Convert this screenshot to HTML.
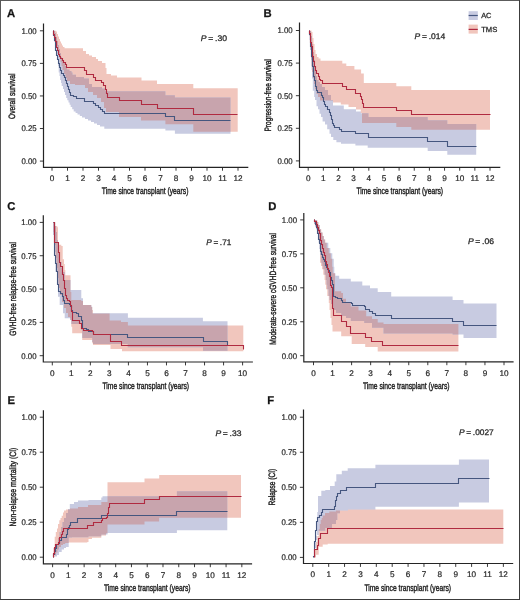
<!DOCTYPE html>
<html><head><meta charset="utf-8"><style>
html,body{margin:0;padding:0;background:#fff;}
svg{display:block;}
text{font-family:"Liberation Sans", sans-serif;stroke:#2a2a2a;stroke-width:0.28px;text-rendering:geometricPrecision;}
svg{will-change:transform;}
</style></head><body>
<svg width="520" height="600" viewBox="0 0 520 600">
<rect x="0" y="0" width="520" height="600" fill="#fff"/>
<rect x="468.6" y="11.2" width="9.2" height="8.8" fill="#c8cbe1"/>
<path d="M468.6 15.5H477.8" stroke="#45567f" stroke-width="1.2"/>
<text x="481.2" y="17.7" font-size="7.4" fill="#2a2a2a">AC</text>
<rect x="468.6" y="24.6" width="9.2" height="9.0" fill="#f1c6bd"/>
<path d="M468.6 29.4H477.8" stroke="#b02a40" stroke-width="1.2"/>
<text x="481.2" y="31.6" font-size="7.4" fill="#2a2a2a" textLength="16.1" lengthAdjust="spacingAndGlyphs">TMS</text>
<text x="200.8" y="40.8" font-size="8.1" fill="#2a2a2a" textLength="26.2" lengthAdjust="spacingAndGlyphs"><tspan font-style="italic">P</tspan> = .30</text>
<clipPath id="rcA"><path d="M53.3 30.8L56 30.8L56 31.5L57 31.5L57 34L58 34L58 36.5L59 36.5L59 39L60 39L60 41.5L61 41.5L61 43.5L62 43.5L62 45.5L63 45.5L63 47L64.5 47L64.5 48.2L83 48.2L83 51L86 51L86 54L89 54L89 55.5L92 55.5L92 57L96 57L96 59L98 59L98 61L102 61L102 63L105.5 63L105.5 68L106.5 68L106.5 74L111 74L111 75.5L117 75.5L117 77.5L141.5 77.5L141.5 80.5L157 80.5L157 84L193.3 84L193.3 88.3L237.7 88.3L237.7 131.7L193.3 131.7L193.3 124.3L165.4 124.3L165.4 120.5L141 120.5L141 117L119 117L119 112L106 112L106 108L104 108L104 102L101 102L101 98L97 98L97 95L93 95L93 92L88 92L88 88L85 88L85 85L75 85L75 84L70 84L70 81L67 81L67 78L65.5 78L65.5 74L64 74L64 70L62.5 70L62.5 66L61.5 66L61.5 62L60.5 62L60.5 58L59.5 58L59.5 54L58.5 54L58.5 50L57.5 50L57.5 46L56.5 46L56.5 42L55.5 42L55.5 38L54.5 38L54.5 34L53.5 34L53.5 30.8L53.3 30.8Z"/></clipPath>
<path d="M53.3 30.8L56 30.8L56 31.5L57 31.5L57 34L58 34L58 36.5L59 36.5L59 39L60 39L60 41.5L61 41.5L61 43.5L62 43.5L62 45.5L63 45.5L63 47L64.5 47L64.5 48.2L83 48.2L83 51L86 51L86 54L89 54L89 55.5L92 55.5L92 57L96 57L96 59L98 59L98 61L102 61L102 63L105.5 63L105.5 68L106.5 68L106.5 74L111 74L111 75.5L117 75.5L117 77.5L141.5 77.5L141.5 80.5L157 80.5L157 84L193.3 84L193.3 88.3L237.7 88.3L237.7 131.7L193.3 131.7L193.3 124.3L165.4 124.3L165.4 120.5L141 120.5L141 117L119 117L119 112L106 112L106 108L104 108L104 102L101 102L101 98L97 98L97 95L93 95L93 92L88 92L88 88L85 88L85 85L75 85L75 84L70 84L70 81L67 81L67 78L65.5 78L65.5 74L64 74L64 70L62.5 70L62.5 66L61.5 66L61.5 62L60.5 62L60.5 58L59.5 58L59.5 54L58.5 54L58.5 50L57.5 50L57.5 46L56.5 46L56.5 42L55.5 42L55.5 38L54.5 38L54.5 34L53.5 34L53.5 30.8L53.3 30.8Z" fill="#f1c6bd"/>
<path d="M53.3 30.8L55 30.8L55 33L56 33L56 37L57 37L57 41L58 41L58 45L59 45L59 49L60 49L60 53L61 53L61 57L62 57L62 60L63.5 60L63.5 63L65 63L65 66L67 66L67 69.5L69.5 69.5L69.5 71L71.5 71L71.5 72.5L72.5 72.5L72.5 74.7L76 74.7L76 77L84 77L84 78.5L89 78.5L89 84L92 84L92 87L102 87L102 88.5L105.5 88.5L105.5 91.3L165.4 91.3L165.4 95.3L174.9 95.3L174.9 97.4L230.5 97.4L230.5 133.8L174.9 133.8L174.9 130.6L165.4 130.6L165.4 128.7L104.3 128.7L104.3 126.5L100 126.5L100 125L97 125L97 123.5L94 123.5L94 122L91 122L91 120.5L88 120.5L88 119L85 119L85 117.5L82 117.5L82 116L79.8 116L79.8 114.5L77.5 114.5L77.5 113L75.6 113L75.6 111.5L73.7 111.5L73.7 109.3L72.2 109.3L72.2 107L70.7 107L70.7 104.8L69.6 104.8L69.6 102.5L68.5 102.5L68.5 100.3L67.3 100.3L67.3 98L66.2 98L66.2 95L65 95L65 92L64 92L64 89L63 89L63 86L61.7 86L61.7 83L61 83L61 80L60.2 80L60.2 76L59.5 76L59.5 72.5L58.7 72.5L58.7 66L58 66L58 59L57.2 59L57.2 54L56.5 54L56.5 48L55.5 48L55.5 42L54.5 42L54.5 36L53.5 36L53.5 30.8L53.3 30.8Z" fill="#c8cbe1"/>
<path d="M53.3 30.8L55 30.8L55 33L56 33L56 37L57 37L57 41L58 41L58 45L59 45L59 49L60 49L60 53L61 53L61 57L62 57L62 60L63.5 60L63.5 63L65 63L65 66L67 66L67 69.5L69.5 69.5L69.5 71L71.5 71L71.5 72.5L72.5 72.5L72.5 74.7L76 74.7L76 77L84 77L84 78.5L89 78.5L89 84L92 84L92 87L102 87L102 88.5L105.5 88.5L105.5 91.3L165.4 91.3L165.4 95.3L174.9 95.3L174.9 97.4L230.5 97.4L230.5 133.8L174.9 133.8L174.9 130.6L165.4 130.6L165.4 128.7L104.3 128.7L104.3 126.5L100 126.5L100 125L97 125L97 123.5L94 123.5L94 122L91 122L91 120.5L88 120.5L88 119L85 119L85 117.5L82 117.5L82 116L79.8 116L79.8 114.5L77.5 114.5L77.5 113L75.6 113L75.6 111.5L73.7 111.5L73.7 109.3L72.2 109.3L72.2 107L70.7 107L70.7 104.8L69.6 104.8L69.6 102.5L68.5 102.5L68.5 100.3L67.3 100.3L67.3 98L66.2 98L66.2 95L65 95L65 92L64 92L64 89L63 89L63 86L61.7 86L61.7 83L61 83L61 80L60.2 80L60.2 76L59.5 76L59.5 72.5L58.7 72.5L58.7 66L58 66L58 59L57.2 59L57.2 54L56.5 54L56.5 48L55.5 48L55.5 42L54.5 42L54.5 36L53.5 36L53.5 30.8L53.3 30.8Z" fill="#c8a4ad" clip-path="url(#rcA)"/>
<path d="M53.5 30.5H53.5V35.5H54.5V40.5H55.5V45.5H55.5V50.5H56.5V55.5H57.5V59.5H58.5V63.5H59.5V67.5H60.5V70.5H61.5V73.5H63.5V75.5H64.5V77.5H65.5V80.5H66.5V83.5H67.5V86.5H68.5V89.5H69.5V92.5H70.5V95.5H73.5V96.5H76.5V98.5H84.5V101.5H93.5V103.5H95.5V105.5H98.5V107.5H100.5V109.5H102.5V111.5H104.5V113.5H165.5V116.5H174.5V120.5H230.5" fill="none" stroke="#45567f" stroke-width="1.1"/>
<path d="M53.5 30.5H53.5V34.5H54.5V37.5H55.5V41.5H56.5V44.5H56.5V47.5H57.5V50.5H58.5V54.5H59.5V56.5H60.5V58.5H62.5V60.5H63.5V62.5H65.5V64.5H66.5V67.5H84.5V70.5H86.5V74.5H93.5V77.5H95.5V80.5H101.5V82.5H103.5V85.5H105.5V89.5H106.5V93.5H107.5V97.5H119.5V100.5H141.5V104.5H157.5V108.5H193.5V114.5H237.5" fill="none" stroke="#b02a40" stroke-width="1.1"/>
<path d="M43.5 24V167.3H247.7" fill="none" stroke="#242424" stroke-width="1.2" stroke-linecap="square"/>
<path d="M39.9 161.1H43.5" stroke="#242424" stroke-width="0.9"/>
<text x="36.7" y="163.9" text-anchor="end" font-size="8.2" fill="#2a2a2a" style="stroke:#2a2a2a;stroke-width:0.22px" textLength="15.2" lengthAdjust="spacingAndGlyphs">0.00</text>
<path d="M39.9 128.53H43.5" stroke="#242424" stroke-width="0.9"/>
<text x="36.7" y="131.33" text-anchor="end" font-size="8.2" fill="#2a2a2a" style="stroke:#2a2a2a;stroke-width:0.22px" textLength="15.2" lengthAdjust="spacingAndGlyphs">0.25</text>
<path d="M39.9 95.95H43.5" stroke="#242424" stroke-width="0.9"/>
<text x="36.7" y="98.75" text-anchor="end" font-size="8.2" fill="#2a2a2a" style="stroke:#2a2a2a;stroke-width:0.22px" textLength="15.2" lengthAdjust="spacingAndGlyphs">0.50</text>
<path d="M39.9 63.38H43.5" stroke="#242424" stroke-width="0.9"/>
<text x="36.7" y="66.17" text-anchor="end" font-size="8.2" fill="#2a2a2a" style="stroke:#2a2a2a;stroke-width:0.22px" textLength="15.2" lengthAdjust="spacingAndGlyphs">0.75</text>
<path d="M39.9 30.8H43.5" stroke="#242424" stroke-width="0.9"/>
<text x="36.7" y="33.6" text-anchor="end" font-size="8.2" fill="#2a2a2a" style="stroke:#2a2a2a;stroke-width:0.22px" textLength="15.2" lengthAdjust="spacingAndGlyphs">1.00</text>
<path d="M52 167.3V170.7" stroke="#242424" stroke-width="0.9"/>
<text x="52" y="181" text-anchor="middle" font-size="8.2" fill="#2a2a2a" style="stroke:#2a2a2a;stroke-width:0.22px">0</text>
<path d="M67.5 167.3V170.7" stroke="#242424" stroke-width="0.9"/>
<text x="67.5" y="181" text-anchor="middle" font-size="8.2" fill="#2a2a2a" style="stroke:#2a2a2a;stroke-width:0.22px">1</text>
<path d="M83 167.3V170.7" stroke="#242424" stroke-width="0.9"/>
<text x="83" y="181" text-anchor="middle" font-size="8.2" fill="#2a2a2a" style="stroke:#2a2a2a;stroke-width:0.22px">2</text>
<path d="M98.5 167.3V170.7" stroke="#242424" stroke-width="0.9"/>
<text x="98.5" y="181" text-anchor="middle" font-size="8.2" fill="#2a2a2a" style="stroke:#2a2a2a;stroke-width:0.22px">3</text>
<path d="M114 167.3V170.7" stroke="#242424" stroke-width="0.9"/>
<text x="114" y="181" text-anchor="middle" font-size="8.2" fill="#2a2a2a" style="stroke:#2a2a2a;stroke-width:0.22px">4</text>
<path d="M129.5 167.3V170.7" stroke="#242424" stroke-width="0.9"/>
<text x="129.5" y="181" text-anchor="middle" font-size="8.2" fill="#2a2a2a" style="stroke:#2a2a2a;stroke-width:0.22px">5</text>
<path d="M145 167.3V170.7" stroke="#242424" stroke-width="0.9"/>
<text x="145" y="181" text-anchor="middle" font-size="8.2" fill="#2a2a2a" style="stroke:#2a2a2a;stroke-width:0.22px">6</text>
<path d="M160.5 167.3V170.7" stroke="#242424" stroke-width="0.9"/>
<text x="160.5" y="181" text-anchor="middle" font-size="8.2" fill="#2a2a2a" style="stroke:#2a2a2a;stroke-width:0.22px">7</text>
<path d="M176 167.3V170.7" stroke="#242424" stroke-width="0.9"/>
<text x="176" y="181" text-anchor="middle" font-size="8.2" fill="#2a2a2a" style="stroke:#2a2a2a;stroke-width:0.22px">8</text>
<path d="M191.5 167.3V170.7" stroke="#242424" stroke-width="0.9"/>
<text x="191.5" y="181" text-anchor="middle" font-size="8.2" fill="#2a2a2a" style="stroke:#2a2a2a;stroke-width:0.22px">9</text>
<path d="M207 167.3V170.7" stroke="#242424" stroke-width="0.9"/>
<text x="207" y="181" text-anchor="middle" font-size="8.2" fill="#2a2a2a" style="stroke:#2a2a2a;stroke-width:0.22px">10</text>
<path d="M222.5 167.3V170.7" stroke="#242424" stroke-width="0.9"/>
<text x="222.5" y="181" text-anchor="middle" font-size="8.2" fill="#2a2a2a" style="stroke:#2a2a2a;stroke-width:0.22px">11</text>
<path d="M238 167.3V170.7" stroke="#242424" stroke-width="0.9"/>
<text x="238" y="181" text-anchor="middle" font-size="8.2" fill="#2a2a2a" style="stroke:#2a2a2a;stroke-width:0.22px">12</text>
<text x="145.1" y="194.3" text-anchor="middle" font-size="9.4" fill="#1e1e1e" style="stroke:#1e1e1e;stroke-width:0.4px" textLength="86.6" lengthAdjust="spacingAndGlyphs">Time since transplant (years)</text>
<text transform="translate(15 118.9) rotate(-90)" x="0" y="0" font-size="9.2" fill="#1e1e1e" style="stroke:#1e1e1e;stroke-width:0.4px" textLength="45.3" lengthAdjust="spacingAndGlyphs">Overall survival</text>
<text x="6.9" y="16.8" font-size="11.3" font-weight="bold" fill="#111">A</text>
<text x="414.6" y="39.2" font-size="8.1" fill="#2a2a2a" textLength="30.6" lengthAdjust="spacingAndGlyphs"><tspan font-style="italic">P</tspan> = .014</text>
<clipPath id="rcB"><path d="M309.5 30.5L311.5 30.5L311.5 32L312.5 32L312.5 38L313.5 38L313.5 44L314.5 44L314.5 50L315.5 50L315.5 54L317 54L317 57L318.5 57L318.5 58.5L320.5 58.5L320.5 60.8L342.3 60.8L342.3 63.4L346.3 63.4L346.3 66L354.4 66L354.4 69.4L361.1 69.4L361.1 73.5L363.8 73.5L363.8 83L396.3 83L396.3 86.3L411.3 86.3L411.3 90L490 90L490 129.8L411.3 129.8L411.3 126.9L396.3 126.9L396.3 123.1L362 123.1L362 113L360.8 113L360.8 109.5L356 109.5L356 107L348.5 107L348.5 104.6L340.8 104.6L340.8 102.5L333 102.5L333 100.4L320 100.4L320 97L318 97L318 94L316.5 94L316.5 89L315 89L315 84L314 84L314 78L313 78L313 72L312 72L312 66L311.5 66L311.5 58L311 58L311 50L310.5 50L310.5 42L310 42L310 36L309.5 36L309.5 30.5L309.5 30.5Z"/></clipPath>
<path d="M309.5 30.5L311.5 30.5L311.5 32L312.5 32L312.5 38L313.5 38L313.5 44L314.5 44L314.5 50L315.5 50L315.5 54L317 54L317 57L318.5 57L318.5 58.5L320.5 58.5L320.5 60.8L342.3 60.8L342.3 63.4L346.3 63.4L346.3 66L354.4 66L354.4 69.4L361.1 69.4L361.1 73.5L363.8 73.5L363.8 83L396.3 83L396.3 86.3L411.3 86.3L411.3 90L490 90L490 129.8L411.3 129.8L411.3 126.9L396.3 126.9L396.3 123.1L362 123.1L362 113L360.8 113L360.8 109.5L356 109.5L356 107L348.5 107L348.5 104.6L340.8 104.6L340.8 102.5L333 102.5L333 100.4L320 100.4L320 97L318 97L318 94L316.5 94L316.5 89L315 89L315 84L314 84L314 78L313 78L313 72L312 72L312 66L311.5 66L311.5 58L311 58L311 50L310.5 50L310.5 42L310 42L310 36L309.5 36L309.5 30.5L309.5 30.5Z" fill="#f1c6bd"/>
<path d="M309.5 30.5L310 30.5L310 31L311 31L311 36L312 36L312 44L313 44L313 52L314 52L314 60L315 60L315 68L316 68L316 76L317 76L317 80L318.5 80L318.5 82L320 82L320 84L322 84L322 87L325 87L325 90L328 90L328 95L331 95L331 100L333 100L333 105.5L343.8 105.5L343.8 109.2L356 109.2L356 111.5L360.8 111.5L360.8 113.2L368.5 113.2L368.5 117L427.7 117L427.7 120.2L447.3 120.2L447.3 124L476.2 124L476.2 154.8L447.3 154.8L447.3 151L427.7 151L427.7 147.7L367.7 147.7L367.7 145.4L355.4 145.4L355.4 143.8L341 143.8L341 142.3L336.4 142.3L336.4 140L333.3 140L333.3 136.9L331 136.9L331 133.8L329.5 133.8L329.5 129.2L327.2 129.2L327.2 124.6L325 124.6L325 121.5L322.6 121.5L322.6 116.9L321 116.9L321 113.8L319.5 113.8L319.5 109.2L318 109.2L318 106.2L316.5 106.2L316.5 100L315 100L315 96.9L314.2 96.9L314.2 90.8L312.8 90.8L312.8 78.5L312 78.5L312 70L311.6 70L311.6 60L311 60L311 50L310.3 50L310.3 40L309.6 40L309.6 30.5L309.5 30.5Z" fill="#c8cbe1"/>
<path d="M309.5 30.5L310 30.5L310 31L311 31L311 36L312 36L312 44L313 44L313 52L314 52L314 60L315 60L315 68L316 68L316 76L317 76L317 80L318.5 80L318.5 82L320 82L320 84L322 84L322 87L325 87L325 90L328 90L328 95L331 95L331 100L333 100L333 105.5L343.8 105.5L343.8 109.2L356 109.2L356 111.5L360.8 111.5L360.8 113.2L368.5 113.2L368.5 117L427.7 117L427.7 120.2L447.3 120.2L447.3 124L476.2 124L476.2 154.8L447.3 154.8L447.3 151L427.7 151L427.7 147.7L367.7 147.7L367.7 145.4L355.4 145.4L355.4 143.8L341 143.8L341 142.3L336.4 142.3L336.4 140L333.3 140L333.3 136.9L331 136.9L331 133.8L329.5 133.8L329.5 129.2L327.2 129.2L327.2 124.6L325 124.6L325 121.5L322.6 121.5L322.6 116.9L321 116.9L321 113.8L319.5 113.8L319.5 109.2L318 109.2L318 106.2L316.5 106.2L316.5 100L315 100L315 96.9L314.2 96.9L314.2 90.8L312.8 90.8L312.8 78.5L312 78.5L312 70L311.6 70L311.6 60L311 60L311 50L310.3 50L310.3 40L309.6 40L309.6 30.5L309.5 30.5Z" fill="#c8a4ad" clip-path="url(#rcB)"/>
<path d="M309.5 30.5H309.5V34.5H310.5V40.5H310.5V46.5H311.5V51.5H311.5V56.5H312.5V61.5H312.5V66.5H313.5V71.5H313.5V76.5H314.5V80.5H315.5V83.5H315.5V86.5H316.5V90.5H317.5V92.5H321.5V95.5H322.5V97.5H323.5V101.5H324.5V104.5H325.5V106.5H327.5V109.5H329.5V112.5H330.5V115.5H331.5V119.5H332.5V123.5H333.5V125.5H334.5V127.5H339.5V129.5H341.5V131.5H355.5V133.5H368.5V137.5H427.5V141.5H447.5V146.5H476.5" fill="none" stroke="#45567f" stroke-width="1.1"/>
<path d="M309.5 30.5H309.5V33.5H310.5V38.5H310.5V42.5H311.5V46.5H312.5V51.5H312.5V56.5H313.5V61.5H314.5V66.5H315.5V70.5H316.5V73.5H318.5V76.5H319.5V79.5H320.5V80.5H322.5V83.5H342.5V86.5H346.5V89.5H355.5V93.5H360.5V96.5H361.5V99.5H362.5V103.5H363.5V107.5H396.5V110.5H411.5V114.5H490.5" fill="none" stroke="#b02a40" stroke-width="1.1"/>
<path d="M299.5 23V167.3H499.7" fill="none" stroke="#242424" stroke-width="1.2" stroke-linecap="square"/>
<path d="M295.9 160.9H299.5" stroke="#242424" stroke-width="0.9"/>
<text x="292.7" y="163.7" text-anchor="end" font-size="8.2" fill="#2a2a2a" style="stroke:#2a2a2a;stroke-width:0.22px" textLength="15.2" lengthAdjust="spacingAndGlyphs">0.00</text>
<path d="M295.9 128.3H299.5" stroke="#242424" stroke-width="0.9"/>
<text x="292.7" y="131.1" text-anchor="end" font-size="8.2" fill="#2a2a2a" style="stroke:#2a2a2a;stroke-width:0.22px" textLength="15.2" lengthAdjust="spacingAndGlyphs">0.25</text>
<path d="M295.9 95.7H299.5" stroke="#242424" stroke-width="0.9"/>
<text x="292.7" y="98.5" text-anchor="end" font-size="8.2" fill="#2a2a2a" style="stroke:#2a2a2a;stroke-width:0.22px" textLength="15.2" lengthAdjust="spacingAndGlyphs">0.50</text>
<path d="M295.9 63.1H299.5" stroke="#242424" stroke-width="0.9"/>
<text x="292.7" y="65.9" text-anchor="end" font-size="8.2" fill="#2a2a2a" style="stroke:#2a2a2a;stroke-width:0.22px" textLength="15.2" lengthAdjust="spacingAndGlyphs">0.75</text>
<path d="M295.9 30.5H299.5" stroke="#242424" stroke-width="0.9"/>
<text x="292.7" y="33.3" text-anchor="end" font-size="8.2" fill="#2a2a2a" style="stroke:#2a2a2a;stroke-width:0.22px" textLength="15.2" lengthAdjust="spacingAndGlyphs">1.00</text>
<path d="M308.2 167.3V170.7" stroke="#242424" stroke-width="0.9"/>
<text x="308.2" y="181" text-anchor="middle" font-size="8.2" fill="#2a2a2a" style="stroke:#2a2a2a;stroke-width:0.22px">0</text>
<path d="M323.35 167.3V170.7" stroke="#242424" stroke-width="0.9"/>
<text x="323.35" y="181" text-anchor="middle" font-size="8.2" fill="#2a2a2a" style="stroke:#2a2a2a;stroke-width:0.22px">1</text>
<path d="M338.5 167.3V170.7" stroke="#242424" stroke-width="0.9"/>
<text x="338.5" y="181" text-anchor="middle" font-size="8.2" fill="#2a2a2a" style="stroke:#2a2a2a;stroke-width:0.22px">2</text>
<path d="M353.65 167.3V170.7" stroke="#242424" stroke-width="0.9"/>
<text x="353.65" y="181" text-anchor="middle" font-size="8.2" fill="#2a2a2a" style="stroke:#2a2a2a;stroke-width:0.22px">3</text>
<path d="M368.8 167.3V170.7" stroke="#242424" stroke-width="0.9"/>
<text x="368.8" y="181" text-anchor="middle" font-size="8.2" fill="#2a2a2a" style="stroke:#2a2a2a;stroke-width:0.22px">4</text>
<path d="M383.95 167.3V170.7" stroke="#242424" stroke-width="0.9"/>
<text x="383.95" y="181" text-anchor="middle" font-size="8.2" fill="#2a2a2a" style="stroke:#2a2a2a;stroke-width:0.22px">5</text>
<path d="M399.1 167.3V170.7" stroke="#242424" stroke-width="0.9"/>
<text x="399.1" y="181" text-anchor="middle" font-size="8.2" fill="#2a2a2a" style="stroke:#2a2a2a;stroke-width:0.22px">6</text>
<path d="M414.25 167.3V170.7" stroke="#242424" stroke-width="0.9"/>
<text x="414.25" y="181" text-anchor="middle" font-size="8.2" fill="#2a2a2a" style="stroke:#2a2a2a;stroke-width:0.22px">7</text>
<path d="M429.4 167.3V170.7" stroke="#242424" stroke-width="0.9"/>
<text x="429.4" y="181" text-anchor="middle" font-size="8.2" fill="#2a2a2a" style="stroke:#2a2a2a;stroke-width:0.22px">8</text>
<path d="M444.55 167.3V170.7" stroke="#242424" stroke-width="0.9"/>
<text x="444.55" y="181" text-anchor="middle" font-size="8.2" fill="#2a2a2a" style="stroke:#2a2a2a;stroke-width:0.22px">9</text>
<path d="M459.7 167.3V170.7" stroke="#242424" stroke-width="0.9"/>
<text x="459.7" y="181" text-anchor="middle" font-size="8.2" fill="#2a2a2a" style="stroke:#2a2a2a;stroke-width:0.22px">10</text>
<path d="M474.85 167.3V170.7" stroke="#242424" stroke-width="0.9"/>
<text x="474.85" y="181" text-anchor="middle" font-size="8.2" fill="#2a2a2a" style="stroke:#2a2a2a;stroke-width:0.22px">11</text>
<path d="M490 167.3V170.7" stroke="#242424" stroke-width="0.9"/>
<text x="490" y="181" text-anchor="middle" font-size="8.2" fill="#2a2a2a" style="stroke:#2a2a2a;stroke-width:0.22px">12</text>
<text x="399.7" y="194.4" text-anchor="middle" font-size="9.4" fill="#1e1e1e" style="stroke:#1e1e1e;stroke-width:0.4px" textLength="86.6" lengthAdjust="spacingAndGlyphs">Time since transplant (years)</text>
<text transform="translate(270.9 131.5) rotate(-90)" x="0" y="0" font-size="9.2" fill="#1e1e1e" style="stroke:#1e1e1e;stroke-width:0.4px" textLength="72.3" lengthAdjust="spacingAndGlyphs">Progression-free survival</text>
<text x="263.5" y="16.8" font-size="11.3" font-weight="bold" fill="#111">B</text>
<text x="206.3" y="244.9" font-size="8.1" fill="#2a2a2a" textLength="25" lengthAdjust="spacingAndGlyphs"><tspan font-style="italic">P</tspan> = .71</text>
<clipPath id="rcC"><path d="M53.6 222.4L55.3 222.4L55.3 226L57.3 226L57.3 227.3L58 227.3L58 244.7L61.3 244.7L61.3 246L62.7 246L62.7 259.3L64 259.3L64 264L64.7 264L64.7 270L65.3 270L65.3 275.3L70.5 275.3L70.5 292L71.3 292L71.3 300L81.3 300L81.3 301L83 301L83 305L91.3 305L91.3 307L92.2 307L92.2 310L93 310L93 313.5L109.6 313.5L109.6 320.6L121 320.6L121 322L127.9 322L127.9 325.6L243.3 325.6L243.3 351.3L122 351.3L122 349L110.5 349L110.5 345L93 345L93 343.3L92.2 343.3L92.2 340L82.2 340L82.2 333.3L72.2 333.3L72.2 326.7L71.3 326.7L71.3 320L70 320L70 317L68 317L68 313L66 313L66 308L64 308L64 302L62 302L62 295L60 295L60 288L58.5 288L58.5 278L57.5 278L57.5 268L56.5 268L56.5 258L55.5 258L55.5 245L54.5 245L54.5 232L53.5 232L53.5 222.4L53.5 222.4Z"/></clipPath>
<path d="M53.6 222.4L55.3 222.4L55.3 226L57.3 226L57.3 227.3L58 227.3L58 244.7L61.3 244.7L61.3 246L62.7 246L62.7 259.3L64 259.3L64 264L64.7 264L64.7 270L65.3 270L65.3 275.3L70.5 275.3L70.5 292L71.3 292L71.3 300L81.3 300L81.3 301L83 301L83 305L91.3 305L91.3 307L92.2 307L92.2 310L93 310L93 313.5L109.6 313.5L109.6 320.6L121 320.6L121 322L127.9 322L127.9 325.6L243.3 325.6L243.3 351.3L122 351.3L122 349L110.5 349L110.5 345L93 345L93 343.3L92.2 343.3L92.2 340L82.2 340L82.2 333.3L72.2 333.3L72.2 326.7L71.3 326.7L71.3 320L70 320L70 317L68 317L68 313L66 313L66 308L64 308L64 302L62 302L62 295L60 295L60 288L58.5 288L58.5 278L57.5 278L57.5 268L56.5 268L56.5 258L55.5 258L55.5 245L54.5 245L54.5 232L53.5 232L53.5 222.4L53.5 222.4Z" fill="#f1c6bd"/>
<path d="M53.6 222.4L54.5 222.4L54.5 226L56 226L56 232L57 232L57 240L58 240L58 248L59 248L59 256L60 256L60 262L61.5 262L61.5 268L63 268L63 272L64.7 272L64.7 280L70.5 280L70.5 290L81.3 290L81.3 298.3L83 298.3L83 305L91.3 305L91.3 306.7L92.2 306.7L92.2 313.3L127.9 313.3L127.9 317.7L202.9 317.7L202.9 321.3L227.5 321.3L227.5 350.8L203 350.8L203 347.3L127.7 347.3L127.7 344L93 344L93 342L92.2 342L92.2 338L82.2 338L82.2 330L81.3 330L81.3 324L71.3 324L71.3 320L70.5 320L70.5 318.3L64.7 318.3L64.7 313.3L63 313.3L63 305L59.7 305L59.7 296.7L58 296.7L58 283.3L57.2 283.3L57.2 271.7L55.5 271.7L55.5 252L55 252L55 245L54 245L54 235L53 235L53 222.4L53 222.4Z" fill="#c8cbe1"/>
<path d="M53.6 222.4L54.5 222.4L54.5 226L56 226L56 232L57 232L57 240L58 240L58 248L59 248L59 256L60 256L60 262L61.5 262L61.5 268L63 268L63 272L64.7 272L64.7 280L70.5 280L70.5 290L81.3 290L81.3 298.3L83 298.3L83 305L91.3 305L91.3 306.7L92.2 306.7L92.2 313.3L127.9 313.3L127.9 317.7L202.9 317.7L202.9 321.3L227.5 321.3L227.5 350.8L203 350.8L203 347.3L127.7 347.3L127.7 344L93 344L93 342L92.2 342L92.2 338L82.2 338L82.2 330L81.3 330L81.3 324L71.3 324L71.3 320L70.5 320L70.5 318.3L64.7 318.3L64.7 313.3L63 313.3L63 305L59.7 305L59.7 296.7L58 296.7L58 283.3L57.2 283.3L57.2 271.7L55.5 271.7L55.5 252L55 252L55 245L54 245L54 235L53 235L53 222.4L53 222.4Z" fill="#c8a4ad" clip-path="url(#rcC)"/>
<path d="M53.5 222.5H54.5V242.5H54.5V255.5H55.5V263.5H56.5V271.5H57.5V277.5H57.5V284.5H58.5V291.5H60.5V293.5H62.5V296.5H63.5V300.5H64.5V303.5H69.5V304.5H70.5V306.5H71.5V310.5H72.5V312.5H76.5V313.5H78.5V316.5H81.5V320.5H82.5V324.5H82.5V328.5H86.5V329.5H88.5V331.5H93.5V332.5H93.5V334.5H127.5V337.5H203.5V341.5H227.5V345.5H227.5" fill="none" stroke="#45567f" stroke-width="1.1"/>
<path d="M53.5 222.5H54.5V242.5H58.5V252.5H59.5V262.5H60.5V266.5H62.5V274.5H63.5V280.5H64.5V288.5H65.5V295.5H66.5V298.5H67.5V300.5H69.5V301.5H70.5V305.5H71.5V311.5H72.5V320.5H77.5V320.5H79.5V323.5H81.5V328.5H83.5V330.5H92.5V331.5H93.5V334.5H110.5V341.5H121.5V345.5H243.5V349.5H243.5" fill="none" stroke="#b02a40" stroke-width="1.1"/>
<path d="M43.3 215.8V362H252.3" fill="none" stroke="#242424" stroke-width="1.2" stroke-linecap="square"/>
<path d="M39.7 355.7H43.3" stroke="#242424" stroke-width="0.9"/>
<text x="36.5" y="358.5" text-anchor="end" font-size="8.2" fill="#2a2a2a" style="stroke:#2a2a2a;stroke-width:0.22px" textLength="15.2" lengthAdjust="spacingAndGlyphs">0.00</text>
<path d="M39.7 322.38H43.3" stroke="#242424" stroke-width="0.9"/>
<text x="36.5" y="325.18" text-anchor="end" font-size="8.2" fill="#2a2a2a" style="stroke:#2a2a2a;stroke-width:0.22px" textLength="15.2" lengthAdjust="spacingAndGlyphs">0.25</text>
<path d="M39.7 289.05H43.3" stroke="#242424" stroke-width="0.9"/>
<text x="36.5" y="291.85" text-anchor="end" font-size="8.2" fill="#2a2a2a" style="stroke:#2a2a2a;stroke-width:0.22px" textLength="15.2" lengthAdjust="spacingAndGlyphs">0.50</text>
<path d="M39.7 255.72H43.3" stroke="#242424" stroke-width="0.9"/>
<text x="36.5" y="258.52" text-anchor="end" font-size="8.2" fill="#2a2a2a" style="stroke:#2a2a2a;stroke-width:0.22px" textLength="15.2" lengthAdjust="spacingAndGlyphs">0.75</text>
<path d="M39.7 222.4H43.3" stroke="#242424" stroke-width="0.9"/>
<text x="36.5" y="225.2" text-anchor="end" font-size="8.2" fill="#2a2a2a" style="stroke:#2a2a2a;stroke-width:0.22px" textLength="15.2" lengthAdjust="spacingAndGlyphs">1.00</text>
<path d="M52.3 362V365.4" stroke="#242424" stroke-width="0.9"/>
<text x="52.3" y="375.7" text-anchor="middle" font-size="8.2" fill="#2a2a2a" style="stroke:#2a2a2a;stroke-width:0.22px">0</text>
<path d="M71.33 362V365.4" stroke="#242424" stroke-width="0.9"/>
<text x="71.33" y="375.7" text-anchor="middle" font-size="8.2" fill="#2a2a2a" style="stroke:#2a2a2a;stroke-width:0.22px">1</text>
<path d="M90.36 362V365.4" stroke="#242424" stroke-width="0.9"/>
<text x="90.36" y="375.7" text-anchor="middle" font-size="8.2" fill="#2a2a2a" style="stroke:#2a2a2a;stroke-width:0.22px">2</text>
<path d="M109.39 362V365.4" stroke="#242424" stroke-width="0.9"/>
<text x="109.39" y="375.7" text-anchor="middle" font-size="8.2" fill="#2a2a2a" style="stroke:#2a2a2a;stroke-width:0.22px">3</text>
<path d="M128.42 362V365.4" stroke="#242424" stroke-width="0.9"/>
<text x="128.42" y="375.7" text-anchor="middle" font-size="8.2" fill="#2a2a2a" style="stroke:#2a2a2a;stroke-width:0.22px">4</text>
<path d="M147.45 362V365.4" stroke="#242424" stroke-width="0.9"/>
<text x="147.45" y="375.7" text-anchor="middle" font-size="8.2" fill="#2a2a2a" style="stroke:#2a2a2a;stroke-width:0.22px">5</text>
<path d="M166.48 362V365.4" stroke="#242424" stroke-width="0.9"/>
<text x="166.48" y="375.7" text-anchor="middle" font-size="8.2" fill="#2a2a2a" style="stroke:#2a2a2a;stroke-width:0.22px">6</text>
<path d="M185.51 362V365.4" stroke="#242424" stroke-width="0.9"/>
<text x="185.51" y="375.7" text-anchor="middle" font-size="8.2" fill="#2a2a2a" style="stroke:#2a2a2a;stroke-width:0.22px">7</text>
<path d="M204.54 362V365.4" stroke="#242424" stroke-width="0.9"/>
<text x="204.54" y="375.7" text-anchor="middle" font-size="8.2" fill="#2a2a2a" style="stroke:#2a2a2a;stroke-width:0.22px">8</text>
<path d="M223.57 362V365.4" stroke="#242424" stroke-width="0.9"/>
<text x="223.57" y="375.7" text-anchor="middle" font-size="8.2" fill="#2a2a2a" style="stroke:#2a2a2a;stroke-width:0.22px">9</text>
<path d="M242.6 362V365.4" stroke="#242424" stroke-width="0.9"/>
<text x="242.6" y="375.7" text-anchor="middle" font-size="8.2" fill="#2a2a2a" style="stroke:#2a2a2a;stroke-width:0.22px">10</text>
<text x="145.8" y="388.9" text-anchor="middle" font-size="9.4" fill="#1e1e1e" style="stroke:#1e1e1e;stroke-width:0.4px" textLength="86.6" lengthAdjust="spacingAndGlyphs">Time since transplant (years)</text>
<text transform="translate(15.8 335.7) rotate(-90)" x="0" y="0" font-size="9.2" fill="#1e1e1e" style="stroke:#1e1e1e;stroke-width:0.4px" textLength="93.7" lengthAdjust="spacingAndGlyphs">GVHD-free relapse-free survival</text>
<text x="7.2" y="209.6" font-size="11.3" font-weight="bold" fill="#111">C</text>
<text x="467.9" y="244.2" font-size="8.1" fill="#2a2a2a" textLength="26.2" lengthAdjust="spacingAndGlyphs"><tspan font-style="italic">P</tspan> = .06</text>
<clipPath id="rcD"><path d="M314.8 219.9L317.3 219.9L317.3 222L318.5 222L318.5 225L320 225L320 229.3L321.3 229.3L321.3 232.5L322.7 232.5L322.7 236L324 236L324 239.5L325.3 239.5L325.3 242.7L326.7 242.7L326.7 248L328.7 248L328.7 253.3L330.7 253.3L330.7 258.7L332.1 258.7L332.1 266.7L332.7 266.7L332.7 273.3L335 273.3L335 291.2L341.2 291.2L341.2 293L343 293L343 298.8L346 298.8L346 302L350.8 302L350.8 306.5L358.5 306.5L358.5 310.4L366.2 310.4L366.2 316.2L372 316.2L372 319L377.7 319L377.7 322.5L383.5 322.5L383.5 324L458.4 324L458.4 351.5L377.7 351.5L377.7 347L365.2 347L365.2 344L351.7 344L351.7 336.3L341.2 336.3L341.2 331.5L332.5 331.5L332.5 325L331.5 325L331.5 318L330.5 318L330.5 310L329.5 310L329.5 303L328.8 303L328.8 296L327.3 296L327.3 289.3L326 289.3L326 284.7L325.3 284.7L325.3 280L324.6 280L324.6 274.7L323.3 274.7L323.3 269.3L322 269.3L322 266L321 266L321 262.7L320 262.7L320 254.7L320.5 254.7L320.5 249L319.9 249L319.9 242.7L319.2 242.7L319.2 239L318.5 239L318.5 234L317.5 234L317.5 229.3L316.5 229.3L316.5 226.5L315.5 226.5L315.5 224L314.5 224L314.5 219.9L314.5 219.9Z"/></clipPath>
<path d="M314.8 219.9L317.3 219.9L317.3 222L318.5 222L318.5 225L320 225L320 229.3L321.3 229.3L321.3 232.5L322.7 232.5L322.7 236L324 236L324 239.5L325.3 239.5L325.3 242.7L326.7 242.7L326.7 248L328.7 248L328.7 253.3L330.7 253.3L330.7 258.7L332.1 258.7L332.1 266.7L332.7 266.7L332.7 273.3L335 273.3L335 291.2L341.2 291.2L341.2 293L343 293L343 298.8L346 298.8L346 302L350.8 302L350.8 306.5L358.5 306.5L358.5 310.4L366.2 310.4L366.2 316.2L372 316.2L372 319L377.7 319L377.7 322.5L383.5 322.5L383.5 324L458.4 324L458.4 351.5L377.7 351.5L377.7 347L365.2 347L365.2 344L351.7 344L351.7 336.3L341.2 336.3L341.2 331.5L332.5 331.5L332.5 325L331.5 325L331.5 318L330.5 318L330.5 310L329.5 310L329.5 303L328.8 303L328.8 296L327.3 296L327.3 289.3L326 289.3L326 284.7L325.3 284.7L325.3 280L324.6 280L324.6 274.7L323.3 274.7L323.3 269.3L322 269.3L322 266L321 266L321 262.7L320 262.7L320 254.7L320.5 254.7L320.5 249L319.9 249L319.9 242.7L319.2 242.7L319.2 239L318.5 239L318.5 234L317.5 234L317.5 229.3L316.5 229.3L316.5 226.5L315.5 226.5L315.5 224L314.5 224L314.5 219.9L314.5 219.9Z" fill="#f1c6bd"/>
<path d="M314.8 219.9L316.9 219.9L316.9 222L318.1 222L318.1 225L319.6 225L319.6 229.3L320.9 229.3L320.9 232.5L322.3 232.5L322.3 236L323.6 236L323.6 239.5L324.9 239.5L324.9 242.7L328.3 242.7L328.3 248L330.3 248L330.3 253.3L332.3 253.3L332.3 258.7L333.7 258.7L333.7 266.7L334.3 266.7L334.3 273.3L335.4 273.3L335.4 275.8L339.2 275.8L339.2 278.7L350.8 278.7L350.8 281.5L362.3 281.5L362.3 285.4L370 285.4L370 288.3L377.7 288.3L377.7 292.1L391.2 292.1L391.2 296.5L452.6 296.5L452.6 300L463.5 300L463.5 303.5L496.5 303.5L496.5 338L463.5 338L463.5 334.6L452.6 334.6L452.6 333.5L383.5 333.5L383.5 327.7L372 327.7L372 322.9L364.2 322.9L364.2 321L350.8 321L350.8 318L346 318L346 316L341.2 316L341.2 313L336 313L336 310L333 310L333 304L331 304L331 300L329.6 300L329.6 296L328.6 296L328.6 289.3L327.3 289.3L327.3 284.7L326.6 284.7L326.6 280L325.9 280L325.9 274.7L324.6 274.7L324.6 269.3L323.3 269.3L323.3 266L322.3 266L322.3 262.7L321.3 262.7L321.3 254.7L320 254.7L320 249L319.4 249L319.4 242.7L318.7 242.7L318.7 239L318 239L318 234L317 234L317 229.3L316 229.3L316 226.5L315 226.5L315 224L314 224L314 219.9L314 219.9Z" fill="#c8cbe1"/>
<path d="M314.8 219.9L316.9 219.9L316.9 222L318.1 222L318.1 225L319.6 225L319.6 229.3L320.9 229.3L320.9 232.5L322.3 232.5L322.3 236L323.6 236L323.6 239.5L324.9 239.5L324.9 242.7L328.3 242.7L328.3 248L330.3 248L330.3 253.3L332.3 253.3L332.3 258.7L333.7 258.7L333.7 266.7L334.3 266.7L334.3 273.3L335.4 273.3L335.4 275.8L339.2 275.8L339.2 278.7L350.8 278.7L350.8 281.5L362.3 281.5L362.3 285.4L370 285.4L370 288.3L377.7 288.3L377.7 292.1L391.2 292.1L391.2 296.5L452.6 296.5L452.6 300L463.5 300L463.5 303.5L496.5 303.5L496.5 338L463.5 338L463.5 334.6L452.6 334.6L452.6 333.5L383.5 333.5L383.5 327.7L372 327.7L372 322.9L364.2 322.9L364.2 321L350.8 321L350.8 318L346 318L346 316L341.2 316L341.2 313L336 313L336 310L333 310L333 304L331 304L331 300L329.6 300L329.6 296L328.6 296L328.6 289.3L327.3 289.3L327.3 284.7L326.6 284.7L326.6 280L325.9 280L325.9 274.7L324.6 274.7L324.6 269.3L323.3 269.3L323.3 266L322.3 266L322.3 262.7L321.3 262.7L321.3 254.7L320 254.7L320 249L319.4 249L319.4 242.7L318.7 242.7L318.7 239L318 239L318 234L317 234L317 229.3L316 229.3L316 226.5L315 226.5L315 224L314 224L314 219.9L314 219.9Z" fill="#c8a4ad" clip-path="url(#rcD)"/>
<path d="M314.5 219.5H314.5V221.5H315.5V224.5H316.5V227.5H317.5V233.5H318.5V239.5H319.5V243.5H320.5V247.5H320.5V251.5H321.5V254.5H322.5V257.5H323.5V259.5H324.5V261.5H325.5V262.5H325.5V265.5H326.5V267.5H327.5V269.5H328.5V270.5H329.5V272.5H330.5V274.5H330.5V277.5H331.5V280.5H332.5V284.5H333.5V290.5H333.5V296.5H335.5V297.5H337.5V298.5H341.5V300.5H342.5V302.5H351.5V303.5H352.5V305.5H364.5V306.5H365.5V309.5H369.5V311.5H372.5V313.5H375.5V315.5H391.5V318.5H452.5V321.5H463.5V325.5H496.5" fill="none" stroke="#45567f" stroke-width="1.1"/>
<path d="M314.5 219.5H314.5V221.5H316.5V224.5H317.5V227.5H318.5V230.5H319.5V233.5H320.5V236.5H320.5V240.5H321.5V244.5H322.5V248.5H323.5V252.5H324.5V255.5H325.5V257.5H325.5V261.5H326.5V264.5H327.5V268.5H328.5V272.5H329.5V276.5H330.5V280.5H330.5V285.5H331.5V287.5H332.5V292.5H332.5V300.5H332.5V308.5H333.5V315.5H341.5V321.5H346.5V326.5H350.5V333.5H365.5V337.5H371.5V341.5H382.5V345.5H458.5" fill="none" stroke="#b02a40" stroke-width="1.1"/>
<path d="M303.8 213.5V361.8H513" fill="none" stroke="#242424" stroke-width="1.2" stroke-linecap="square"/>
<path d="M300.2 355.7H303.8" stroke="#242424" stroke-width="0.9"/>
<text x="297" y="358.5" text-anchor="end" font-size="8.2" fill="#2a2a2a" style="stroke:#2a2a2a;stroke-width:0.22px" textLength="15.2" lengthAdjust="spacingAndGlyphs">0.00</text>
<path d="M300.2 321.75H303.8" stroke="#242424" stroke-width="0.9"/>
<text x="297" y="324.55" text-anchor="end" font-size="8.2" fill="#2a2a2a" style="stroke:#2a2a2a;stroke-width:0.22px" textLength="15.2" lengthAdjust="spacingAndGlyphs">0.25</text>
<path d="M300.2 287.8H303.8" stroke="#242424" stroke-width="0.9"/>
<text x="297" y="290.6" text-anchor="end" font-size="8.2" fill="#2a2a2a" style="stroke:#2a2a2a;stroke-width:0.22px" textLength="15.2" lengthAdjust="spacingAndGlyphs">0.50</text>
<path d="M300.2 253.85H303.8" stroke="#242424" stroke-width="0.9"/>
<text x="297" y="256.65" text-anchor="end" font-size="8.2" fill="#2a2a2a" style="stroke:#2a2a2a;stroke-width:0.22px" textLength="15.2" lengthAdjust="spacingAndGlyphs">0.75</text>
<path d="M300.2 219.9H303.8" stroke="#242424" stroke-width="0.9"/>
<text x="297" y="222.7" text-anchor="end" font-size="8.2" fill="#2a2a2a" style="stroke:#2a2a2a;stroke-width:0.22px" textLength="15.2" lengthAdjust="spacingAndGlyphs">1.00</text>
<path d="M313.5 361.8V365.2" stroke="#242424" stroke-width="0.9"/>
<text x="313.5" y="375.5" text-anchor="middle" font-size="8.2" fill="#2a2a2a" style="stroke:#2a2a2a;stroke-width:0.22px">0</text>
<path d="M332.55 361.8V365.2" stroke="#242424" stroke-width="0.9"/>
<text x="332.55" y="375.5" text-anchor="middle" font-size="8.2" fill="#2a2a2a" style="stroke:#2a2a2a;stroke-width:0.22px">1</text>
<path d="M351.6 361.8V365.2" stroke="#242424" stroke-width="0.9"/>
<text x="351.6" y="375.5" text-anchor="middle" font-size="8.2" fill="#2a2a2a" style="stroke:#2a2a2a;stroke-width:0.22px">2</text>
<path d="M370.65 361.8V365.2" stroke="#242424" stroke-width="0.9"/>
<text x="370.65" y="375.5" text-anchor="middle" font-size="8.2" fill="#2a2a2a" style="stroke:#2a2a2a;stroke-width:0.22px">3</text>
<path d="M389.7 361.8V365.2" stroke="#242424" stroke-width="0.9"/>
<text x="389.7" y="375.5" text-anchor="middle" font-size="8.2" fill="#2a2a2a" style="stroke:#2a2a2a;stroke-width:0.22px">4</text>
<path d="M408.75 361.8V365.2" stroke="#242424" stroke-width="0.9"/>
<text x="408.75" y="375.5" text-anchor="middle" font-size="8.2" fill="#2a2a2a" style="stroke:#2a2a2a;stroke-width:0.22px">5</text>
<path d="M427.8 361.8V365.2" stroke="#242424" stroke-width="0.9"/>
<text x="427.8" y="375.5" text-anchor="middle" font-size="8.2" fill="#2a2a2a" style="stroke:#2a2a2a;stroke-width:0.22px">6</text>
<path d="M446.85 361.8V365.2" stroke="#242424" stroke-width="0.9"/>
<text x="446.85" y="375.5" text-anchor="middle" font-size="8.2" fill="#2a2a2a" style="stroke:#2a2a2a;stroke-width:0.22px">7</text>
<path d="M465.9 361.8V365.2" stroke="#242424" stroke-width="0.9"/>
<text x="465.9" y="375.5" text-anchor="middle" font-size="8.2" fill="#2a2a2a" style="stroke:#2a2a2a;stroke-width:0.22px">8</text>
<path d="M484.95 361.8V365.2" stroke="#242424" stroke-width="0.9"/>
<text x="484.95" y="375.5" text-anchor="middle" font-size="8.2" fill="#2a2a2a" style="stroke:#2a2a2a;stroke-width:0.22px">9</text>
<path d="M504 361.8V365.2" stroke="#242424" stroke-width="0.9"/>
<text x="504" y="375.5" text-anchor="middle" font-size="8.2" fill="#2a2a2a" style="stroke:#2a2a2a;stroke-width:0.22px">10</text>
<text x="406.2" y="389.3" text-anchor="middle" font-size="9.4" fill="#1e1e1e" style="stroke:#1e1e1e;stroke-width:0.4px" textLength="86.6" lengthAdjust="spacingAndGlyphs">Time since transplant (years)</text>
<text transform="translate(276 344.7) rotate(-90)" x="0" y="0" font-size="9.2" fill="#1e1e1e" style="stroke:#1e1e1e;stroke-width:0.4px" textLength="111.7" lengthAdjust="spacingAndGlyphs">Moderate-severe cGVHD-free survival</text>
<text x="268.2" y="209.6" font-size="11.3" font-weight="bold" fill="#111">D</text>
<text x="215.4" y="435.8" font-size="8.1" fill="#2a2a2a" textLength="26.1" lengthAdjust="spacingAndGlyphs"><tspan font-style="italic">P</tspan> = .33</text>
<clipPath id="rcE"><path d="M53.5 557.2L53.5 557.2L53.5 548L54.7 548L54.7 536.7L55.8 536.7L55.8 532L57 532L57 528.5L58 528.5L58 524L59.3 524L59.3 520.3L60.5 520.3L60.5 518L61.7 518L61.7 515.7L63 515.7L63 512.5L64 512.5L64 510.5L66 510.5L66 509.5L70 509.5L70 508.5L78 508.5L78 507L88 507L88 505L101.3 505L101.3 502L107.5 502L107.5 482.3L144.5 482.3L144.5 478.5L159.2 478.5L159.2 475L241 475L241 517.7L159.1 517.7L159.1 521.5L144.5 521.5L144.5 524.6L107.5 524.6L107.5 533.2L106 533.2L106 535.5L101.3 535.5L101.3 537.8L92 537.8L92 539L88.5 539L88.5 541.9L87.3 541.9L87.3 542.5L68.7 542.5L68.7 543L65.2 543L65.2 544L63 544L63 545L61 545L61 547L59 547L59 549.5L57.5 549.5L57.5 552.5L56 552.5L56 555.3L54.7 555.3L54.7 557.2L53.9 557.2Z"/></clipPath>
<path d="M53.5 557.2L53.5 557.2L53.5 548L54.7 548L54.7 536.7L55.8 536.7L55.8 532L57 532L57 528.5L58 528.5L58 524L59.3 524L59.3 520.3L60.5 520.3L60.5 518L61.7 518L61.7 515.7L63 515.7L63 512.5L64 512.5L64 510.5L66 510.5L66 509.5L70 509.5L70 508.5L78 508.5L78 507L88 507L88 505L101.3 505L101.3 502L107.5 502L107.5 482.3L144.5 482.3L144.5 478.5L159.2 478.5L159.2 475L241 475L241 517.7L159.1 517.7L159.1 521.5L144.5 521.5L144.5 524.6L107.5 524.6L107.5 533.2L106 533.2L106 535.5L101.3 535.5L101.3 537.8L92 537.8L92 539L88.5 539L88.5 541.9L87.3 541.9L87.3 542.5L68.7 542.5L68.7 543L65.2 543L65.2 544L63 544L63 545L61 545L61 547L59 547L59 549.5L57.5 549.5L57.5 552.5L56 552.5L56 555.3L54.7 555.3L54.7 557.2L53.9 557.2Z" fill="#f1c6bd"/>
<path d="M53.9 557.2L55 557.2L55 550L56.5 550L56.5 544L58 544L58 538L59.5 538L59.5 532L61 532L61 527L62.5 527L62.5 522L64 522L64 518L66 518L66 513L68 513L68 509L69.8 509L69.8 504L74 504L74 502L78 502L78 500.5L88.5 500.5L88.5 499.9L101.3 499.9L101.3 497.5L102.5 497.5L102.5 496.2L176.9 496.2L176.9 491.2L227.3 491.2L227.3 530.2L176.9 530.2L176.9 533L107.5 533L107.5 534.5L101.3 534.5L101.3 536.3L88.5 536.3L88.5 537.3L72 537.3L72 537.5L68.7 537.5L68.7 547L66 547L66 548L64 548L64 549.5L61.7 549.5L61.7 552L59 552L59 555L57 555L57 556.5L55 556.5L55 557.2L53.9 557.2Z" fill="#c8cbe1"/>
<path d="M53.9 557.2L55 557.2L55 550L56.5 550L56.5 544L58 544L58 538L59.5 538L59.5 532L61 532L61 527L62.5 527L62.5 522L64 522L64 518L66 518L66 513L68 513L68 509L69.8 509L69.8 504L74 504L74 502L78 502L78 500.5L88.5 500.5L88.5 499.9L101.3 499.9L101.3 497.5L102.5 497.5L102.5 496.2L176.9 496.2L176.9 491.2L227.3 491.2L227.3 530.2L176.9 530.2L176.9 533L107.5 533L107.5 534.5L101.3 534.5L101.3 536.3L88.5 536.3L88.5 537.3L72 537.3L72 537.5L68.7 537.5L68.7 547L66 547L66 548L64 548L64 549.5L61.7 549.5L61.7 552L59 552L59 555L57 555L57 556.5L55 556.5L55 557.2L53.9 557.2Z" fill="#c8a4ad" clip-path="url(#rcE)"/>
<path d="M53.5 557.5H53.5V554.5H54.5V551.5H55.5V548.5H56.5V544.5H58.5V543.5H59.5V540.5H61.5V537.5H66.5V534.5H67.5V532.5H67.5V529.5H68.5V527.5H69.5V525.5H70.5V522.5H77.5V518.5H101.5V515.5H176.5V511.5H227.5" fill="none" stroke="#45567f" stroke-width="1.1"/>
<path d="M53.5 557.5H53.5V553.5H54.5V550.5H54.5V547.5H55.5V544.5H58.5V542.5H59.5V537.5H61.5V534.5H62.5V531.5H63.5V528.5H87.5V525.5H93.5V522.5H101.5V520.5H102.5V518.5H106.5V517.5H107.5V513.5H108.5V510.5H108.5V507.5H109.5V503.5H144.5V499.5H159.5V496.5H241.5" fill="none" stroke="#b02a40" stroke-width="1.1"/>
<path d="M43.4 410.8V563.8H251.5" fill="none" stroke="#242424" stroke-width="1.2" stroke-linecap="square"/>
<path d="M39.8 557.2H43.4" stroke="#242424" stroke-width="0.9"/>
<text x="36.6" y="560" text-anchor="end" font-size="8.2" fill="#2a2a2a" style="stroke:#2a2a2a;stroke-width:0.22px" textLength="15.2" lengthAdjust="spacingAndGlyphs">0.00</text>
<path d="M39.8 522.2H43.4" stroke="#242424" stroke-width="0.9"/>
<text x="36.6" y="525" text-anchor="end" font-size="8.2" fill="#2a2a2a" style="stroke:#2a2a2a;stroke-width:0.22px" textLength="15.2" lengthAdjust="spacingAndGlyphs">0.25</text>
<path d="M39.8 487.2H43.4" stroke="#242424" stroke-width="0.9"/>
<text x="36.6" y="490" text-anchor="end" font-size="8.2" fill="#2a2a2a" style="stroke:#2a2a2a;stroke-width:0.22px" textLength="15.2" lengthAdjust="spacingAndGlyphs">0.50</text>
<path d="M39.8 452.2H43.4" stroke="#242424" stroke-width="0.9"/>
<text x="36.6" y="455" text-anchor="end" font-size="8.2" fill="#2a2a2a" style="stroke:#2a2a2a;stroke-width:0.22px" textLength="15.2" lengthAdjust="spacingAndGlyphs">0.75</text>
<path d="M39.8 417.2H43.4" stroke="#242424" stroke-width="0.9"/>
<text x="36.6" y="420" text-anchor="end" font-size="8.2" fill="#2a2a2a" style="stroke:#2a2a2a;stroke-width:0.22px" textLength="15.2" lengthAdjust="spacingAndGlyphs">1.00</text>
<path d="M52.6 563.8V567.2" stroke="#242424" stroke-width="0.9"/>
<text x="52.6" y="577.5" text-anchor="middle" font-size="8.2" fill="#2a2a2a" style="stroke:#2a2a2a;stroke-width:0.22px">0</text>
<path d="M68.37 563.8V567.2" stroke="#242424" stroke-width="0.9"/>
<text x="68.37" y="577.5" text-anchor="middle" font-size="8.2" fill="#2a2a2a" style="stroke:#2a2a2a;stroke-width:0.22px">1</text>
<path d="M84.14 563.8V567.2" stroke="#242424" stroke-width="0.9"/>
<text x="84.14" y="577.5" text-anchor="middle" font-size="8.2" fill="#2a2a2a" style="stroke:#2a2a2a;stroke-width:0.22px">2</text>
<path d="M99.91 563.8V567.2" stroke="#242424" stroke-width="0.9"/>
<text x="99.91" y="577.5" text-anchor="middle" font-size="8.2" fill="#2a2a2a" style="stroke:#2a2a2a;stroke-width:0.22px">3</text>
<path d="M115.68 563.8V567.2" stroke="#242424" stroke-width="0.9"/>
<text x="115.68" y="577.5" text-anchor="middle" font-size="8.2" fill="#2a2a2a" style="stroke:#2a2a2a;stroke-width:0.22px">4</text>
<path d="M131.45 563.8V567.2" stroke="#242424" stroke-width="0.9"/>
<text x="131.45" y="577.5" text-anchor="middle" font-size="8.2" fill="#2a2a2a" style="stroke:#2a2a2a;stroke-width:0.22px">5</text>
<path d="M147.22 563.8V567.2" stroke="#242424" stroke-width="0.9"/>
<text x="147.22" y="577.5" text-anchor="middle" font-size="8.2" fill="#2a2a2a" style="stroke:#2a2a2a;stroke-width:0.22px">6</text>
<path d="M162.99 563.8V567.2" stroke="#242424" stroke-width="0.9"/>
<text x="162.99" y="577.5" text-anchor="middle" font-size="8.2" fill="#2a2a2a" style="stroke:#2a2a2a;stroke-width:0.22px">7</text>
<path d="M178.76 563.8V567.2" stroke="#242424" stroke-width="0.9"/>
<text x="178.76" y="577.5" text-anchor="middle" font-size="8.2" fill="#2a2a2a" style="stroke:#2a2a2a;stroke-width:0.22px">8</text>
<path d="M194.53 563.8V567.2" stroke="#242424" stroke-width="0.9"/>
<text x="194.53" y="577.5" text-anchor="middle" font-size="8.2" fill="#2a2a2a" style="stroke:#2a2a2a;stroke-width:0.22px">9</text>
<path d="M210.3 563.8V567.2" stroke="#242424" stroke-width="0.9"/>
<text x="210.3" y="577.5" text-anchor="middle" font-size="8.2" fill="#2a2a2a" style="stroke:#2a2a2a;stroke-width:0.22px">10</text>
<path d="M226.07 563.8V567.2" stroke="#242424" stroke-width="0.9"/>
<text x="226.07" y="577.5" text-anchor="middle" font-size="8.2" fill="#2a2a2a" style="stroke:#2a2a2a;stroke-width:0.22px">11</text>
<path d="M241.84 563.8V567.2" stroke="#242424" stroke-width="0.9"/>
<text x="241.84" y="577.5" text-anchor="middle" font-size="8.2" fill="#2a2a2a" style="stroke:#2a2a2a;stroke-width:0.22px">12</text>
<text x="147.2" y="590.5" text-anchor="middle" font-size="9.4" fill="#1e1e1e" style="stroke:#1e1e1e;stroke-width:0.4px" textLength="86.6" lengthAdjust="spacingAndGlyphs">Time since transplant (years)</text>
<text transform="translate(15.5 526.4) rotate(-90)" x="0" y="0" font-size="9.2" fill="#1e1e1e" style="stroke:#1e1e1e;stroke-width:0.4px" textLength="78.8" lengthAdjust="spacingAndGlyphs">Non-relapse mortality (CI)</text>
<text x="7.4" y="404.1" font-size="11.3" font-weight="bold" fill="#111">E</text>
<text x="459" y="435" font-size="8.1" fill="#2a2a2a" textLength="34.8" lengthAdjust="spacingAndGlyphs"><tspan font-style="italic">P</tspan> = .0027</text>
<clipPath id="rcF"><path d="M314.1 557.4L314.5 557.4L314.5 550L316 550L316 542L317.3 542L317.3 536L318.7 536L318.7 529.3L319.7 529.3L319.7 524L320.7 524L320.7 520L321.7 520L321.7 518L322.7 518L322.7 515.5L325 515.5L325 513L329.3 513L329.3 511.5L336 511.5L336 510.5L348 510.5L348 509.4L503.3 509.4L503.3 543.7L327.7 543.7L327.7 544.5L322.7 544.5L322.7 546.7L318.7 546.7L318.7 554.7L316 554.7L316 557.4L314.1 557.4Z"/></clipPath>
<path d="M314.1 557.4L314.5 557.4L314.5 550L316 550L316 542L317.3 542L317.3 536L318.7 536L318.7 529.3L319.7 529.3L319.7 524L320.7 524L320.7 520L321.7 520L321.7 518L322.7 518L322.7 515.5L325 515.5L325 513L329.3 513L329.3 511.5L336 511.5L336 510.5L348 510.5L348 509.4L503.3 509.4L503.3 543.7L327.7 543.7L327.7 544.5L322.7 544.5L322.7 546.7L318.7 546.7L318.7 554.7L316 554.7L316 557.4L314.1 557.4Z" fill="#f1c6bd"/>
<path d="M314 557.4L314 557.4L314 550L315 550L315 542L316 542L316 536L316.7 536L316.7 530L317 530L317 520L317.3 520L317.3 512L318 512L318 496L321.3 496L321.3 490.7L325.3 490.7L325.3 490L330 490L330 486L334.7 486L334.7 481.5L336.3 481.5L336.3 474.2L341.8 474.2L341.8 470.8L347.7 470.8L347.7 468.3L375.4 468.3L375.4 464.8L458.9 464.8L458.9 459.4L489 459.4L489 502.5L458.9 502.5L458.9 506.8L375.4 506.8L375.4 509.5L348 509.5L348 510.5L340 510.5L340 513.3L337.3 513.3L337.3 520L336 520L336 524L332 524L332 528L325.3 528L325.3 530.7L318.7 530.7L318.7 535L317 535L317 540L316 540L316 548L315 548L315 556L314 556L314 557.4L314 557.4Z" fill="#c8cbe1"/>
<path d="M314 557.4L314 557.4L314 550L315 550L315 542L316 542L316 536L316.7 536L316.7 530L317 530L317 520L317.3 520L317.3 512L318 512L318 496L321.3 496L321.3 490.7L325.3 490.7L325.3 490L330 490L330 486L334.7 486L334.7 481.5L336.3 481.5L336.3 474.2L341.8 474.2L341.8 470.8L347.7 470.8L347.7 468.3L375.4 468.3L375.4 464.8L458.9 464.8L458.9 459.4L489 459.4L489 502.5L458.9 502.5L458.9 506.8L375.4 506.8L375.4 509.5L348 509.5L348 510.5L340 510.5L340 513.3L337.3 513.3L337.3 520L336 520L336 524L332 524L332 528L325.3 528L325.3 530.7L318.7 530.7L318.7 535L317 535L317 540L316 540L316 548L315 548L315 556L314 556L314 557.4L314 557.4Z" fill="#c8a4ad" clip-path="url(#rcF)"/>
<path d="M313.5 557.5H313.5V556.5H314.5V544.5H314.5V541.5H315.5V530.5H316.5V525.5H316.5V521.5H317.5V517.5H319.5V515.5H321.5V512.5H322.5V509.5H334.5V506.5H335.5V504.5H335.5V500.5H336.5V496.5H337.5V493.5H340.5V490.5H346.5V487.5H375.5V483.5H458.5V478.5H489.5" fill="none" stroke="#45567f" stroke-width="1.1"/>
<path d="M314.5 557.5H314.5V549.5H317.5V545.5H318.5V538.5H320.5V533.5H327.5V528.5H503.5" fill="none" stroke="#b02a40" stroke-width="1.1"/>
<path d="M303.5 410V563.5H512.6" fill="none" stroke="#242424" stroke-width="1.2" stroke-linecap="square"/>
<path d="M299.9 557.4H303.5" stroke="#242424" stroke-width="0.9"/>
<text x="296.7" y="560.2" text-anchor="end" font-size="8.2" fill="#2a2a2a" style="stroke:#2a2a2a;stroke-width:0.22px" textLength="15.2" lengthAdjust="spacingAndGlyphs">0.00</text>
<path d="M299.9 522.35H303.5" stroke="#242424" stroke-width="0.9"/>
<text x="296.7" y="525.15" text-anchor="end" font-size="8.2" fill="#2a2a2a" style="stroke:#2a2a2a;stroke-width:0.22px" textLength="15.2" lengthAdjust="spacingAndGlyphs">0.25</text>
<path d="M299.9 487.3H303.5" stroke="#242424" stroke-width="0.9"/>
<text x="296.7" y="490.1" text-anchor="end" font-size="8.2" fill="#2a2a2a" style="stroke:#2a2a2a;stroke-width:0.22px" textLength="15.2" lengthAdjust="spacingAndGlyphs">0.50</text>
<path d="M299.9 452.25H303.5" stroke="#242424" stroke-width="0.9"/>
<text x="296.7" y="455.05" text-anchor="end" font-size="8.2" fill="#2a2a2a" style="stroke:#2a2a2a;stroke-width:0.22px" textLength="15.2" lengthAdjust="spacingAndGlyphs">0.75</text>
<path d="M299.9 417.2H303.5" stroke="#242424" stroke-width="0.9"/>
<text x="296.7" y="420" text-anchor="end" font-size="8.2" fill="#2a2a2a" style="stroke:#2a2a2a;stroke-width:0.22px" textLength="15.2" lengthAdjust="spacingAndGlyphs">1.00</text>
<path d="M312.8 563.5V566.9" stroke="#242424" stroke-width="0.9"/>
<text x="312.8" y="577.2" text-anchor="middle" font-size="8.2" fill="#2a2a2a" style="stroke:#2a2a2a;stroke-width:0.22px">0</text>
<path d="M328.68 563.5V566.9" stroke="#242424" stroke-width="0.9"/>
<text x="328.68" y="577.2" text-anchor="middle" font-size="8.2" fill="#2a2a2a" style="stroke:#2a2a2a;stroke-width:0.22px">1</text>
<path d="M344.56 563.5V566.9" stroke="#242424" stroke-width="0.9"/>
<text x="344.56" y="577.2" text-anchor="middle" font-size="8.2" fill="#2a2a2a" style="stroke:#2a2a2a;stroke-width:0.22px">2</text>
<path d="M360.44 563.5V566.9" stroke="#242424" stroke-width="0.9"/>
<text x="360.44" y="577.2" text-anchor="middle" font-size="8.2" fill="#2a2a2a" style="stroke:#2a2a2a;stroke-width:0.22px">3</text>
<path d="M376.32 563.5V566.9" stroke="#242424" stroke-width="0.9"/>
<text x="376.32" y="577.2" text-anchor="middle" font-size="8.2" fill="#2a2a2a" style="stroke:#2a2a2a;stroke-width:0.22px">4</text>
<path d="M392.2 563.5V566.9" stroke="#242424" stroke-width="0.9"/>
<text x="392.2" y="577.2" text-anchor="middle" font-size="8.2" fill="#2a2a2a" style="stroke:#2a2a2a;stroke-width:0.22px">5</text>
<path d="M408.08 563.5V566.9" stroke="#242424" stroke-width="0.9"/>
<text x="408.08" y="577.2" text-anchor="middle" font-size="8.2" fill="#2a2a2a" style="stroke:#2a2a2a;stroke-width:0.22px">6</text>
<path d="M423.96 563.5V566.9" stroke="#242424" stroke-width="0.9"/>
<text x="423.96" y="577.2" text-anchor="middle" font-size="8.2" fill="#2a2a2a" style="stroke:#2a2a2a;stroke-width:0.22px">7</text>
<path d="M439.84 563.5V566.9" stroke="#242424" stroke-width="0.9"/>
<text x="439.84" y="577.2" text-anchor="middle" font-size="8.2" fill="#2a2a2a" style="stroke:#2a2a2a;stroke-width:0.22px">8</text>
<path d="M455.72 563.5V566.9" stroke="#242424" stroke-width="0.9"/>
<text x="455.72" y="577.2" text-anchor="middle" font-size="8.2" fill="#2a2a2a" style="stroke:#2a2a2a;stroke-width:0.22px">9</text>
<path d="M471.6 563.5V566.9" stroke="#242424" stroke-width="0.9"/>
<text x="471.6" y="577.2" text-anchor="middle" font-size="8.2" fill="#2a2a2a" style="stroke:#2a2a2a;stroke-width:0.22px">10</text>
<path d="M487.48 563.5V566.9" stroke="#242424" stroke-width="0.9"/>
<text x="487.48" y="577.2" text-anchor="middle" font-size="8.2" fill="#2a2a2a" style="stroke:#2a2a2a;stroke-width:0.22px">11</text>
<path d="M503.36 563.5V566.9" stroke="#242424" stroke-width="0.9"/>
<text x="503.36" y="577.2" text-anchor="middle" font-size="8.2" fill="#2a2a2a" style="stroke:#2a2a2a;stroke-width:0.22px">12</text>
<text x="407.7" y="590.5" text-anchor="middle" font-size="9.4" fill="#1e1e1e" style="stroke:#1e1e1e;stroke-width:0.4px" textLength="86.6" lengthAdjust="spacingAndGlyphs">Time since transplant (years)</text>
<text transform="translate(275.3 505.5) rotate(-90)" x="0" y="0" font-size="9.2" fill="#1e1e1e" style="stroke:#1e1e1e;stroke-width:0.4px" textLength="36.7" lengthAdjust="spacingAndGlyphs">Relapse (CI)</text>
<text x="267.3" y="404.1" font-size="11.3" font-weight="bold" fill="#111">F</text>
<rect x="0" y="0" width="520" height="1" fill="#5c5c5c"/><rect x="0" y="0" width="1" height="600" fill="#575757"/><rect x="519" y="0" width="1" height="600" fill="#3c3c3c"/><rect x="0" y="599" width="520" height="1" fill="#3c3c3c"/>
</svg>
</body></html>
